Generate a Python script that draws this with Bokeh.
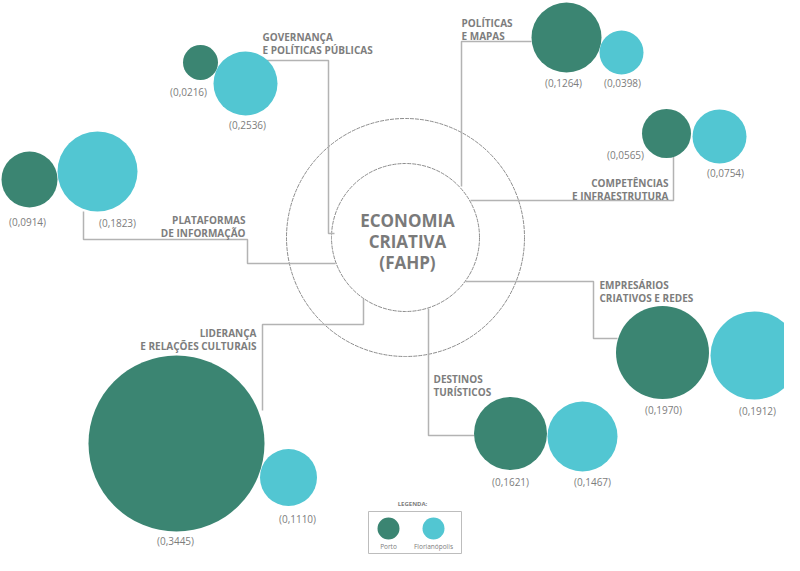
from bokeh.plotting import figure
from bokeh.models import Range1d
from bokeh.core.properties import value
from bokeh.embed import file_html
from bokeh.resources import INLINE

# ---------------- data ----------------
categories = [
    "GOVERNANÇA\nE POLÍTICAS PÚBLICAS",
    "POLÍTICAS\nE MAPAS",
    "COMPETÊNCIAS\nE INFRAESTRUTURA",
    "PLATAFORMAS\nDE INFORMAÇÃO",
    "EMPRESÁRIOS\nCRIATIVOS E REDES",
    "DESTINOS\nTURÍSTICOS",
    "LIDERANÇA\nE RELAÇÕES CULTURAIS",
]
porto = [0.0216, 0.1264, 0.0565, 0.0914, 0.1970, 0.1621, 0.3445]
florianopolis = [0.2536, 0.0398, 0.0754, 0.1823, 0.1912, 0.1467, 0.1110]
series_names = ["Porto", "Florianópolis"]
center_title = ["ECONOMIA", "CRIATIVA", "(FAHP)"]
legend_title = "LEGENDA:"

# ---------------- layout (diagram placement) ----------------
porto_x = [200, 566, 666, 29, 662, 510, 176]
porto_y = [62, 37, 133, 179, 352, 433, 443]
porto_r = [17.5, 35, 24.5, 28, 46.5, 36.5, 88]
flor_x = [245, 621, 719, 97, 754, 582, 288]
flor_y = [83, 52, 136, 171, 355, 436, 477]
flor_r = [32, 22, 27, 40, 44, 35, 28.5]

porto_lx = [188, 563, 625, 27, 663, 510, 175]
porto_ly = [91, 82, 154, 221, 409, 481, 540]
flor_lx = [247, 622, 725, 117, 757, 592, 297]
flor_ly = [124, 82, 172, 222, 410, 481, 518]

cat_x = [262, 461, 668, 245, 599, 433, 256]
cat_y = [36, 22, 182, 219, 284, 378, 332]
cat_align = ["left", "left", "right", "right", "left", "left", "right"]

conn_xs = [[265, 328, 328, 334], [531, 461, 461], [673, 673, 470],
           [83, 83, 247, 247, 335], [465, 593, 593, 617], [428, 428, 474],
           [363, 363, 262, 262]]
conn_ys = [[60, 60, 233, 233], [41, 41, 186], [156, 200, 200],
           [211, 239, 239, 263, 263], [281, 281, 338, 338], [308, 435, 435],
           [298, 324, 324, 410]]

CX, CY = 405, 237
PORTO_C = "#3b8572"
FLOR_C = "#52c6d2"
TXT = "#7d7d7d"
LINE = "#b3b3b3"
FONT = value("Open Sans")

p = figure(width=784, height=555, x_range=Range1d(0, 784), y_range=Range1d(555, 0),
           output_backend="svg", toolbar_location=None, min_border=0)
p.axis.visible = False
p.grid.visible = False
p.outline_line_color = None
p.background_fill_color = "white"

# central rings
p.circle(x=[CX, CX], y=[CY, CY], radius=[74, 119], fill_color=None,
         line_color="#8c8c8c", line_width=1, line_dash="4 1")

# connectors
p.multi_line(xs=conn_xs, ys=conn_ys, line_color=LINE, line_width=1.5)

# bubbles
p.circle(x=porto_x, y=porto_y, radius=porto_r, fill_color=PORTO_C, line_color=None)
p.circle(x=flor_x, y=flor_y, radius=flor_r, fill_color=FLOR_C, line_color=None)

# value labels
fmt = lambda v: "(" + f"{v:.4f}".replace(".", ",") + ")"
p.text(x=porto_lx, y=porto_ly, text=[fmt(v) for v in porto], text_font=FONT,
       text_font_size="10px", text_color=TXT, text_align="center", text_baseline="middle")
p.text(x=flor_lx, y=flor_ly, text=[fmt(v) for v in florianopolis], text_font=FONT,
       text_font_size="10px", text_color=TXT, text_align="center", text_baseline="middle")

# category labels (two lines each)
for i, c in enumerate(categories):
    l1, l2 = c.split("\n")
    p.text(x=[cat_x[i], cat_x[i]], y=[cat_y[i], cat_y[i] + 13.5], text=[l1, l2],
           text_font=FONT, text_font_style="bold", text_font_size="10px",
           text_color=TXT, text_align=cat_align[i], text_baseline="middle")

# central title
p.text(x=[CX + 2] * 3, y=[CY - 17, CY + 4, CY + 25], text=center_title, text_font=FONT,
       text_font_style="bold", text_font_size="17px", text_color="#7a7a7a",
       text_align="center", text_baseline="middle")

# legend
p.text(x=[412], y=[503], text=[legend_title], text_font=FONT, text_font_style="bold",
       text_font_size="6px", text_color=TXT, text_align="center", text_baseline="middle")
p.quad(left=[368], right=[461], top=[511], bottom=[553], fill_color=None,
       line_color="#bdbdbd", line_width=1)
p.circle(x=[388, 433], y=[528, 528], radius=[11, 11], fill_color=[PORTO_C, FLOR_C],
         line_color=None)
p.text(x=[388, 433], y=[546, 546], text=series_names, text_font=FONT,
       text_font_size="6.5px", text_color=TXT, text_align="center", text_baseline="middle")

open("out.html", "w").write(file_html(p, INLINE))
